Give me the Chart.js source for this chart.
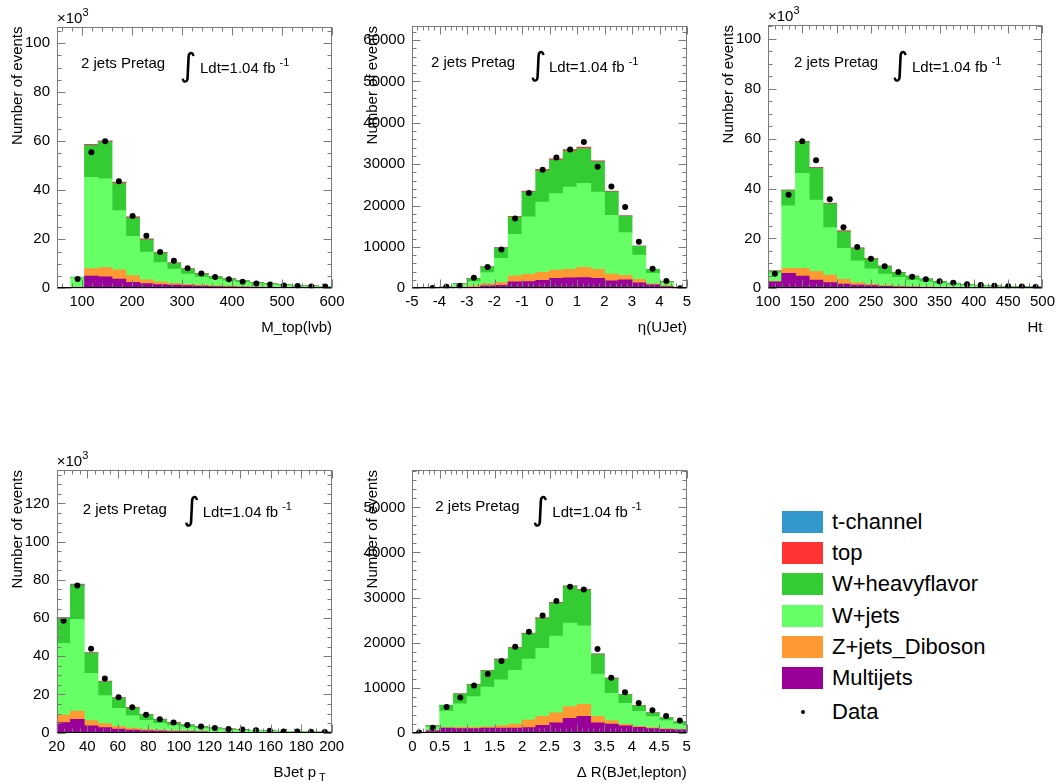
<!DOCTYPE html>
<html><head><meta charset="utf-8">
<script src="https://cdn.jsdelivr.net/npm/chart.js@4/dist/chart.umd.min.js"></script>
<style>
body{margin:0;background:#fff;width:1060px;height:783px;position:relative;overflow:hidden;font-family:"Liberation Sans",Arial,Helvetica,sans-serif;}
canvas{position:absolute;display:block;}
.lgbox{position:absolute;left:782px;width:41px;height:22px;}
.lgtxt{position:absolute;left:832px;font-size:22px;line-height:26px;color:#000;white-space:nowrap;}
.lgdot{position:absolute;left:801px;width:4px;height:4px;border-radius:2px;background:#000;}
</style></head><body>
<canvas id="c1" width="350" height="345" style="left:0px;top:0px"></canvas>
<canvas id="c2" width="350" height="345" style="left:350px;top:0px"></canvas>
<canvas id="c3" width="360" height="345" style="left:700px;top:0px"></canvas>
<canvas id="c4" width="350" height="338" style="left:0px;top:445px"></canvas>
<canvas id="c5" width="350" height="338" style="left:350px;top:445px"></canvas>
<div id="legend"></div>
<script>
// ---------- series ----------
const seriesNames = ['t-channel', 'top', 'W+heavyflavor', 'W+jets', 'Z+jets_Diboson', 'Multijets'];
const seriesColors = ['#3399cc', '#ff3333', '#33cc33', '#66ff66', '#ff9933', '#990099'];

// ---------- M_top(lvb)  (x10^3 events) ----------
const mtopBins = [63.75, 91.25, 118.75, 146.25, 173.75, 201.25, 228.75, 256.25, 283.75, 311.25, 338.75, 366.25, 393.75, 421.25, 448.75, 476.25, 503.75, 531.25, 558.75, 586.25];
const mtopMultijets = [0.03, 0.3, 5.0, 4.6, 3.7, 2.4, 1.9, 1.5, 1.3, 1.1, 0.9, 0.7, 0.6, 0.5, 0.4, 0.3, 0.25, 0.2, 0.15, 0.1];
const mtopZjets = [0, 0.2, 3.0, 3.8, 3.8, 2.8, 1.5, 1.1, 0.7, 0.5, 0.4, 0.3, 0.25, 0.2, 0.15, 0.12, 0.1, 0.08, 0.06, 0.05];
const mtopWjets = [0, 3.7, 37.2, 36.2, 24.2, 16.0, 11.3, 7.9, 5.8, 4.2, 3.2, 2.6, 2.1, 1.7, 1.35, 1.1, 0.85, 0.7, 0.6, 0.5];
const mtopWhf = [0, 0.25, 13.0, 15.0, 11.0, 7.4, 5.0, 3.8, 2.4, 2.0, 1.4, 1.0, 0.8, 0.6, 0.45, 0.35, 0.28, 0.22, 0.17, 0.14];
const mtopTop = [0, 0.03, 0.3, 0.35, 0.45, 0.45, 0.35, 0.25, 0.15, 0.1, 0.07, 0.05, 0.04, 0.03, 0.02, 0.02, 0.01, 0.01, 0.01, 0.01];
const mtopTchan = [0, 0.02, 0.2, 0.2, 0.15, 0.1, 0.08, 0.05, 0.04, 0.03, 0.02, 0.02, 0.01, 0.01, 0.01, 0.01, 0.01, 0.01, 0.01, 0.01];
const mtopData = [null, 3.8, 55.5, 60.0, 43.7, 29.5, 21.4, 14.8, 11.2, 8.2, 6.0, 4.6, 3.7, 2.7, 2.0, 1.6, 1.1, 0.95, 0.7, 0.7];

// ---------- eta(UJet)  (events) ----------
const etaBins = [-4.75, -4.25, -3.75, -3.25, -2.75, -2.25, -1.75, -1.25, -0.75, -0.25, 0.25, 0.75, 1.25, 1.75, 2.25, 2.75, 3.25, 3.75, 4.25, 4.75];
const etaMultijets = [20, 30, 60, 150, 240, 560, 720, 1520, 1600, 1930, 2410, 2490, 2570, 2410, 1760, 2010, 1280, 800, 400, 30];
const etaZjets = [10, 20, 50, 120, 320, 480, 720, 1450, 1770, 1920, 2000, 2080, 2480, 2160, 1690, 1120, 890, 240, 160, 20];
const etaWjets = [30, 60, 200, 650, 1040, 2730, 5780, 10030, 13880, 17000, 18450, 19890, 20300, 18690, 14200, 10350, 5850, 2570, 800, 60];
const etaWhf = [5, 10, 40, 150, 750, 1350, 2450, 4200, 6000, 7550, 8100, 8700, 8400, 7300, 5650, 3900, 2100, 940, 240, 10];
const etaTop = [0, 0, 5, 20, 30, 50, 90, 150, 200, 250, 280, 280, 300, 200, 150, 90, 50, 20, 10, 0];
const etaTchan = [0, 0, 0, 10, 20, 30, 40, 50, 50, 50, 60, 60, 50, 40, 50, 30, 30, 0, 0, 0];
const etaData = [null, 50, 400, 640, 2570, 5130, 9380, 16850, 23020, 28640, 31600, 33530, 35370, 29360, 24620, 19650, 11230, 4730, 1760, 30];

// ---------- Ht  (x10^3 events) ----------
const htBins = [110, 130, 150, 170, 190, 210, 230, 250, 270, 290, 310, 330, 350, 370, 390, 410, 430, 450, 470, 490];
const htMultijets = [2.6, 6.0, 4.9, 3.3, 2.3, 1.7, 1.3, 1.1, 0.8, 0.6, 0.5, 0.4, 0.05, 0.04, 0.03, 0.02, 0.02, 0.02, 0.01, 0.01];
const htZjets = [0.2, 2.0, 3.1, 3.5, 3.0, 1.9, 1.0, 0.6, 0.4, 0.3, 0.2, 0.15, 0.1, 0.08, 0.06, 0.05, 0.04, 0.03, 0.02, 0.02];
const htWjets = [3.4, 25.0, 38.1, 28.6, 19.0, 12.4, 8.7, 6.1, 4.5, 3.5, 2.6, 2.0, 1.7, 1.3, 1.05, 0.8, 0.62, 0.53, 0.45, 0.35];
const htWhf = [0.7, 6.2, 12.5, 12.7, 9.5, 6.7, 4.9, 3.9, 3.0, 1.9, 1.5, 1.1, 0.8, 0.55, 0.42, 0.3, 0.25, 0.2, 0.16, 0.12];
const htTop = [0.05, 0.15, 0.2, 0.25, 0.3, 0.3, 0.25, 0.2, 0.15, 0.1, 0.08, 0.06, 0.05, 0.04, 0.03, 0.02, 0.02, 0.01, 0.01, 0.01];
const htTchan = [0.02, 0.05, 0.1, 0.1, 0.1, 0.05, 0.05, 0.03, 0.03, 0.02, 0.02, 0.02, 0.01, 0.01, 0.01, 0.01, 0.01, 0.01, 0.01, 0.01];
const htData = [5.8, 37.5, 59.0, 51.4, 35.7, 24.5, 16.6, 11.9, 8.8, 6.5, 4.6, 3.6, 2.8, 2.2, 1.6, 1.3, 1.0, 0.8, 0.7, 0.5];

// ---------- BJet pT  (x10^3 events) ----------
const ptBins = [24.5, 33.5, 42.5, 51.5, 60.5, 69.5, 78.5, 87.5, 96.5, 105.5, 114.5, 123.5, 132.5, 141.5, 150.5, 159.5, 168.5, 177.5, 186.5, 195.5];
const ptMultijets = [5.2, 7.0, 3.5, 2.6, 1.9, 1.4, 1.0, 0.8, 0.6, 0.5, 0.4, 0.05, 0.04, 0.03, 0.03, 0.02, 0.02, 0.01, 0.01, 0.01];
const ptZjets = [4.0, 4.3, 2.8, 2.1, 1.4, 1.0, 0.7, 0.5, 0.4, 0.3, 0.2, 0.15, 0.12, 0.1, 0.08, 0.06, 0.05, 0.04, 0.03, 0.02];
const ptWjets = [37.6, 48.0, 24.8, 14.7, 9.4, 6.5, 4.8, 3.6, 2.7, 2.1, 1.7, 1.6, 1.3, 1.1, 0.85, 0.62, 0.48, 0.38, 0.32, 0.25];
const ptWhf = [13.1, 17.8, 10.4, 7.2, 5.3, 4.0, 2.9, 1.9, 1.3, 1.0, 0.7, 0.55, 0.4, 0.3, 0.23, 0.18, 0.14, 0.1, 0.08, 0.06];
const ptTop = [0.2, 0.3, 0.3, 0.3, 0.25, 0.2, 0.2, 0.2, 0.2, 0.1, 0.1, 0.08, 0.07, 0.06, 0.05, 0.04, 0.03, 0.02, 0.02, 0.01];
const ptTchan = [0.1, 0.3, 0.1, 0.1, 0.05, 0.03, 0.03, 0.03, 0.05, 0.03, 0.03, 0.02, 0.02, 0.01, 0.01, 0.01, 0.01, 0.01, 0.01, 0.01];
const ptData = [58.6, 77.1, 44.0, 28.4, 18.5, 13.3, 9.4, 7.1, 5.3, 4.0, 3.2, 2.5, 2.0, 1.7, 1.3, 1.0, 0.6, 0.6, 0.5, 0.4];

// ---------- Delta R(BJet,lepton)  (events) ----------
const drBins = [0.125, 0.375, 0.625, 0.875, 1.125, 1.375, 1.625, 1.875, 2.125, 2.375, 2.625, 2.875, 3.125, 3.375, 3.625, 3.875, 4.125, 4.375, 4.625, 4.875];
const drMultijets = [20, 400, 1000, 900, 900, 1000, 1000, 1000, 1100, 1600, 2200, 3200, 3600, 2200, 1900, 1500, 1200, 900, 750, 600];
const drZjets = [10, 50, 100, 300, 300, 300, 550, 900, 1700, 2000, 2200, 2600, 2700, 1400, 800, 350, 200, 200, 150, 150];
const drWjets = [30, 800, 3700, 5200, 6800, 8800, 10150, 11900, 13500, 15100, 17000, 18500, 17400, 9400, 6000, 4650, 3300, 2450, 1800, 1150];
const drWhf = [10, 250, 1250, 2150, 2650, 3600, 4500, 4950, 5600, 6600, 7300, 8100, 7900, 4300, 3300, 1950, 1270, 830, 580, 480];
const drTop = [0, 0, 30, 40, 50, 80, 100, 130, 150, 150, 150, 150, 150, 150, 80, 50, 30, 20, 20, 20];
const drTchan = [0, 0, 20, 10, 0, 20, 20, 20, 50, 50, 50, 50, 50, 50, 20, 0, 0, 0, 0, 0];
const drData = [50, 1100, 5700, 7800, 10500, 13000, 15900, 19100, 22400, 26000, 29200, 32400, 31800, 18600, 12200, 9000, 6600, 5000, 3700, 2700];

// ---------- panels (stack order bottom -> top) ----------
const panels = [
  {id:'c1', bins:mtopBins, stacks:[mtopMultijets, mtopZjets, mtopWjets, mtopWhf, mtopTop, mtopTchan], data:mtopData,
   xTitle:'M_top(lvb)', xMin:50, xMax:600, xMajor:100, xMinor:20, yMax:106.8, yMajor:20, yMinor:5, exp:true,
   area:{l:57, t:26.5, r:332, b:288.3}, ann:{jx:24, jy:37, ix:131, lx:143, ly:42}},
  {id:'c2', bins:etaBins, stacks:[etaMultijets, etaZjets, etaWjets, etaWhf, etaTop, etaTchan], data:etaData,
   xTitle:'\u03b7(UJet)', xMin:-5, xMax:5, xMajor:1, xMinor:0.2, yMax:63400, yMajor:10000, yMinor:2000, exp:false,
   area:{l:62, t:26, r:337, b:288.3}, ann:{jx:19, jy:37, ix:126, lx:137, ly:42}},
  {id:'c3', bins:htBins, stacks:[htMultijets, htZjets, htWjets, htWhf, htTop, htTchan], data:htData,
   xTitle:'Ht', xMin:100, xMax:500, xMajor:50, xMinor:10, yMax:105.6, yMajor:20, yMinor:5, exp:true,
   area:{l:68, t:25, r:343, b:288.3}, ann:{jx:26, jy:38, ix:132, lx:144, ly:43}},
  {id:'c4', bins:ptBins, stacks:[ptMultijets, ptZjets, ptWjets, ptWhf, ptTop, ptTchan], data:ptData,
   xTitle:null, xSub:['BJet p','T'], xMin:20, xMax:200, xMajor:20, xMinor:5, yMax:137.5, yMajor:20, yMinor:5, exp:true,
   area:{l:56.7, t:25, r:331.7, b:287.7}, ann:{jx:26, jy:40, ix:135, lx:146, ly:43}},
  {id:'c5', bins:drBins, stacks:[drMultijets, drZjets, drWjets, drWhf, drTop, drTchan], data:drData,
   xTitle:'\u0394 R(BJet,lepton)', xMin:0, xMax:5, xMajor:0.5, xMinor:0.1, yMax:58300, yMajor:10000, yMinor:2000, exp:false,
   area:{l:62.3, t:25, r:336.7, b:287.7}, ann:{jx:23, jy:37, ix:128, lx:140, ly:43}}
];

const FONT = '"Liberation Sans", Arial, Helvetica, sans-serif';
Chart.defaults.font.family = FONT;
Chart.defaults.color = '#000';

const frameTicks = {
  id: 'frameTicks',
  afterDatasetsDraw(chart, args, o) {
    const {ctx, chartArea: a, scales: {x, y}} = chart;
    ctx.save();
    ctx.lineWidth = 1;
    ctx.strokeStyle = '#7a7a7a';
    const seg = (x1, y1, x2, y2) => { ctx.beginPath(); ctx.moveTo(x1, y1); ctx.lineTo(x2, y2); ctx.stroke(); };
    const isMaj = (v, m) => Math.abs(v / m - Math.round(v / m)) < 1e-6;
    const top = Math.round(a.top) + 0.5, bot = Math.round(a.bottom) - 0.5;
    const lef = Math.round(a.left) + 0.5, rig = Math.round(a.right) - 0.5;
    for (let k = Math.ceil(x.min / o.xMinor - 1e-6); k * o.xMinor <= x.max + 1e-9; k++) {
      const v = k * o.xMinor;
      const L = isMaj(v, o.xMajor) ? 8 : 4;
      const px = Math.round(x.getPixelForValue(v)) + 0.5;
      seg(px, bot, px, bot - L);
      seg(px, top, px, top + L);
    }
    for (let k = Math.ceil(y.min / o.yMinor - 1e-6); k * o.yMinor <= y.max + 1e-9; k++) {
      const v = k * o.yMinor;
      const L = isMaj(v, o.yMajor) ? 8 : 4;
      const py = Math.round(y.getPixelForValue(v)) + 0.5;
      seg(lef, py, lef + L, py);
      seg(rig, py, rig - L, py);
    }
    ctx.strokeRect(lef, top, rig - lef, bot - top);
    ctx.strokeStyle = '#000';
    seg(lef, bot, rig, bot);
    ctx.restore();
  }
};

const annot = {
  id: 'annot',
  afterDraw(chart, args, o) {
    const {ctx, chartArea: a} = chart;
    ctx.save();
    ctx.fillStyle = '#000';
    ctx.textBaseline = 'middle';
    ctx.textAlign = 'left';
    ctx.font = '15px ' + FONT;
    ctx.fillText('2 jets Pretag', a.left + o.jx, a.top + o.jy);
    ctx.fillText('Ldt=1.04 fb', a.left + o.lx, a.top + o.ly);
    const w = ctx.measureText('Ldt=1.04 fb').width;
    ctx.font = '11px ' + FONT;
    ctx.fillText('-1', a.left + o.lx + w + 4, a.top + o.ly - 6);
    ctx.font = '32px "DejaVu Sans", sans-serif';
    ctx.textAlign = 'center';
    ctx.fillText('\u222b', a.left + o.ix, a.top + o.ly - 1);
    ctx.textAlign = 'left';
    if (o.exp) {
      ctx.font = '15px ' + FONT;
      ctx.fillText('\u00d710', a.left, a.top - 8);
      const w2 = ctx.measureText('\u00d710').width;
      ctx.font = '11px ' + FONT;
      ctx.fillText('3', a.left + w2, a.top - 14);
    }
    if (o.xSub) {
      ctx.font = '11px ' + FONT;
      const ws = ctx.measureText(o.xSub[1]).width;
      ctx.fillText(o.xSub[1], a.right - 6 - ws, a.bottom + 45);
      ctx.font = '15px ' + FONT;
      ctx.textAlign = 'right';
      ctx.fillText(o.xSub[0], a.right - 9 - ws, a.bottom + 40);
    }
    ctx.restore();
  }
};

function fmt(v) { return String(Math.round(v * 1000) / 1000); }
function majorTicks(step) {
  return function (s) {
    const t = [];
    for (let k = Math.ceil(s.min / step - 1e-9); k * step <= s.max + 1e-9; k++) {
      t.push({value: Math.round(k * step * 1000) / 1000});
    }
    s.ticks = t;
  };
}

panels.forEach(p => {
  const cv = document.getElementById(p.id);
  const W = cv.width, H = cv.height, A = p.area;
  const datasets = p.stacks.map((arr, k) => {
    const nameIdx = seriesNames.length - 1 - k;
    return {
      type: 'bar', label: seriesNames[nameIdx], stack: 'mc',
      data: p.bins.map((x, i) => ({x: x, y: arr[i]})),
      backgroundColor: seriesColors[nameIdx], borderWidth: 0,
      barPercentage: 1, categoryPercentage: 1, inflateAmount: 0.4
    };
  });
  datasets.push({
    type: 'scatter', label: 'Data', stack: 'data', order: -1,
    data: p.bins.map((x, i) => ({x: x, y: p.data[i]})),
    pointRadius: 3, pointBackgroundColor: '#000', pointBorderColor: '#000', pointBorderWidth: 0, showLine: false
  });
  new Chart(cv, {
    type: 'bar',
    data: {datasets},
    options: {
      responsive: false, animation: false, events: [],
      layout: {padding: {left: 0, top: A.t, right: W - A.r, bottom: 0}},
      plugins: {
        legend: {display: false}, tooltip: {enabled: false},
        frameTicks: {xMajor: p.xMajor, xMinor: p.xMinor, yMajor: p.yMajor, yMinor: p.yMinor},
        annot: Object.assign({exp: p.exp, xSub: p.xSub || null}, p.ann)
      },
      scales: {
        x: {
          type: 'linear', min: p.xMin, max: p.xMax, offset: false, stacked: true,
          grid: {display: false, drawTicks: false, offset: false}, border: {display: false},
          ticks: {autoSkip: false, maxRotation: 0, minRotation: 0,
                  padding: 5, font: {size: 15}, color: '#000', callback: v => fmt(v)},
          afterBuildTicks: majorTicks(p.xMajor),
          title: {display: !!p.xTitle, text: p.xTitle || '', align: 'end', color: '#000', font: {size: 15},
                  padding: {top: 0, bottom: H - A.b - 49}},
          afterFit(s) { s.height = H - A.b; }
        },
        y: {
          type: 'linear', min: 0, max: p.yMax, stacked: true,
          grid: {display: false, drawTicks: false}, border: {display: false},
          ticks: {autoSkip: false, padding: 7, font: {size: 15}, color: '#000', callback: v => fmt(v)},
          afterBuildTicks: majorTicks(p.yMajor),
          title: {display: true, text: 'Number of events', align: 'end', color: '#000', font: {size: 15},
                  padding: {top: A.l - 48, bottom: 0}},
          afterFit(s) { s.width = A.l; }
        }
      }
    },
    plugins: [frameTicks, annot]
  });
});

// ---------- legend ----------
const lg = document.getElementById('legend');
seriesNames.forEach((name, i) => {
  const cy = 522 + i * 31.2;
  const b = document.createElement('div');
  b.className = 'lgbox'; b.style.top = (cy - 11) + 'px'; b.style.background = seriesColors[i];
  lg.appendChild(b);
  const t = document.createElement('div');
  t.className = 'lgtxt'; t.style.top = (cy - 13) + 'px'; t.textContent = name;
  lg.appendChild(t);
});
const dd = document.createElement('div');
dd.className = 'lgdot'; dd.style.top = '710px'; lg.appendChild(dd);
const dt = document.createElement('div');
dt.className = 'lgtxt'; dt.style.top = '699px'; dt.textContent = 'Data'; lg.appendChild(dt);
</script>
</body></html>
